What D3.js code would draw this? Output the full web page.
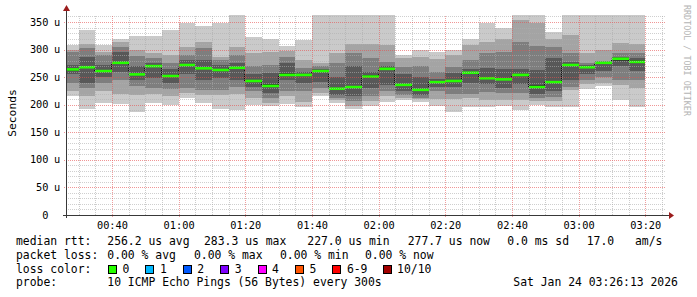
<!DOCTYPE html>
<html>
<head>
<meta charset="utf-8">
<script src="https://cdn.jsdelivr.net/npm/d3@7"></script>
<style>
  html, body { margin: 0; padding: 0; background: #fff; }
  svg text { font-family: "DejaVu Sans Mono", monospace; }
</style>
</head>
<body>
<div id="chart"></div>
<script>
// time window of the graph
const graphEnd = '2026-01-24 03:26:13';
const graphStart = '2026-01-24 00:26:13';

// end of each 5 minute step (a step covers the 5 minutes before it)
const slotEnds = [
  '00:30', '00:35', '00:40', '00:45', '00:50', '00:55', '01:00', '01:05', '01:10',
  '01:15', '01:20', '01:25', '01:30', '01:35', '01:40', '01:45', '01:50', '01:55',
  '02:00', '02:05', '02:10', '02:15', '02:20', '02:25', '02:30', '02:35', '02:40',
  '02:45', '02:50', '02:55', '03:00', '03:05', '03:10', '03:15', '03:20'
];

// median rtt per step (us)
const median = [
  264, 268, 261, 276, 255, 270, 252, 272, 266, 263, 267, 243,
  234, 254, 254, 261, 229, 232, 251, 265, 236, 227.0, 241, 243,
  258, 248, 246, 254, 232, 241, 272, 268, 276, 283.3, 277.7
];

// the 10 sorted pings per step (us), smoke is drawn from these
const pings = [
  [215, 225, 240, 255, 262, 265, 272, 296, 300, 308],
  [193, 215, 230, 240, 266, 270, 287, 302, 311, 336],
  [204, 225, 240, 250, 260, 263, 272, 290, 296, 308],
  [201, 220, 245, 260, 275, 278, 295, 305, 314, 320],
  [187, 217, 234, 245, 254, 258, 270, 288, 299, 325],
  [204, 220, 230, 249, 269, 272, 275, 284, 293, 325],
  [200, 215, 228, 240, 251, 254, 265, 275, 290, 336],
  [212, 222, 230, 255, 271, 274, 281, 290, 305, 348],
  [204, 217, 227, 245, 265, 268, 281, 302, 314, 342],
  [193, 218, 226, 248, 262, 265, 272, 281, 287, 348],
  [190, 220, 233, 245, 266, 269, 275, 290, 305, 370],
  [200, 212, 224, 232, 241, 245, 255, 270, 293, 322],
  [198, 203, 212, 222, 232, 237, 258, 272, 296, 319],
  [201, 216, 224, 245, 252, 257, 276, 287, 298, 307],
  [195, 205, 225, 240, 253, 256, 259, 266, 281, 317],
  [216, 222, 230, 242, 259, 263, 265, 270, 275, 370],
  [204, 208, 213, 218, 227, 231, 250, 275, 293, 370],
  [192, 197, 207, 215, 230, 234, 270, 293, 311, 370],
  [197, 207, 215, 230, 249, 254, 260, 284, 311, 370],
  [205, 215, 225, 235, 263, 267, 270, 278, 308, 370],
  [208, 213, 218, 225, 234, 238, 255, 269, 284, 290],
  [205, 210, 213, 218, 225, 229, 250, 270, 287, 300],
  [197, 210, 225, 233, 239, 243, 247, 260, 282, 296],
  [186, 210, 220, 233, 241, 245, 258, 268, 290, 299],
  [196, 212, 220, 240, 256, 260, 265, 281, 308, 320],
  [196, 208, 223, 238, 246, 250, 266, 293, 314, 348],
  [198, 208, 222, 230, 244, 248, 265, 296, 320, 340],
  [190, 208, 222, 238, 252, 256, 265, 314, 353, 370],
  [200, 206, 212, 220, 230, 235, 263, 306, 349, 370],
  [195, 206, 214, 224, 239, 243, 284, 305, 319, 331],
  [195, 226, 232, 245, 270, 274, 277, 293, 326, 370],
  [229, 237, 245, 255, 266, 270, 272, 276, 294, 370],
  [234, 240, 250, 262, 274, 277, 278, 280, 300, 370],
  [209, 236, 245, 270, 280, 284, 287, 293, 312, 370],
  [196, 230, 245, 262, 277, 281, 284, 293, 311, 370]
];

const yMax = 362.7;

// legend texts
const rttStats = ['256.2 us avg', '283.3 us max', '227.0 us min', '277.7 us now', '0.0 ms sd', '17.0', 'am/s'];
const lossStats = ['0.00 % avg', '0.00 % max', '0.00 % min', '0.00 % now'];
const lossLabels = ['0', '1', '2', '3', '4', '5', '6-9', '10/10'];
const lossColors = ['#26ff00', '#00b8ff', '#0059ff', '#7e00ff', '#ff00ff', '#ff5500', '#ff0000', '#a10000'];
const probeText = '10 ICMP Echo Pings (56 Bytes) every 300s';
const dateText = 'Sat Jan 24 03:26:13 2026';

// smokeping grey for the pair (ibot, itop)
const smokeColors = ['#cacaca', '#a4a4a4', '#7e7e7e', '#585858', '#323232'];

const W = 697, H = 297;
const plot = { left: 66, right: 666, top: 15, bottom: 215 };

const parseFull = d3.timeParse('%Y-%m-%d %H:%M:%S');
const parseSlot = s => parseFull('2026-01-24 ' + s + ':00');
const tStart = parseFull(graphStart);
const tEnd = parseFull(graphEnd);

const x = d3.scaleTime().domain([tStart, tEnd]).range([plot.left, plot.right]);
const y = d3.scaleLinear().domain([0, yMax]).range([plot.bottom, plot.top]);

const svg = d3.select('#chart').append('svg')
  .attr('width', W)
  .attr('height', H)
  .attr('viewBox', `0 0 ${W} ${H}`);

const defs = svg.append('defs');
defs.append('clipPath')
  .attr('id', 'plotClip')
  .append('rect')
  .attr('x', plot.left)
  .attr('y', plot.top)
  .attr('width', plot.right - plot.left)
  .attr('height', plot.bottom - plot.top);

// grid colours
const minorCol = 'rgba(175,175,175,0.6)';
const majorCol = 'rgba(230,80,80,0.6)';

// dotted fill for the vertical grid and the median joins
[['vMinor', 'rgba(170,170,170,0.6)'], ['vMajor', 'rgba(230,80,80,0.55)'], ['vJoin', '#111']].forEach(([id, col]) => {
  const p = defs.append('pattern')
    .attr('id', id)
    .attr('patternUnits', 'userSpaceOnUse')
    .attr('width', 1)
    .attr('height', 2);
  p.append('rect').attr('width', 1).attr('height', 1).attr('fill', col);
});

const steps = slotEnds.map((s, i) => {
  const end = parseSlot(s);
  const start = d3.timeMinute.offset(end, -5);
  return {
    x0: Math.round(x(start < tStart ? tStart : start)),
    x1: Math.round(x(end)),
    pings: pings[i],
    median: median[i]
  };
});

const plotG = svg.append('g').attr('clip-path', 'url(#plotClip)');

// smoke: nested pairs, outer pair lightest
smokeColors.forEach((col, k) => {
  plotG.append('g')
    .selectAll('rect')
    .data(steps)
    .enter()
    .append('rect')
    .attr('x', d => d.x0)
    .attr('width', d => d.x1 - d.x0)
    .attr('y', d => y(d.pings[9 - k]))
    .attr('height', d => y(d.pings[k]) - y(d.pings[9 - k]))
    .attr('fill', col)
    .attr('shape-rendering', 'crispEdges');
});

// dotted joins where the median jumps
const joins = steps.slice(0, -1).map((d, i) => ({ x: d.x1, a: y(d.median), b: y(steps[i + 1].median) }));
plotG.append('g')
  .selectAll('rect')
  .data(joins)
  .enter()
  .append('rect')
  .attr('x', d => d.x - 1)
  .attr('width', 1)
  .attr('y', d => Math.min(d.a, d.b))
  .attr('height', d => Math.abs(d.a - d.b))
  .attr('fill', 'url(#vJoin)');

// median line, loss colour 0
plotG.append('g')
  .selectAll('rect')
  .data(steps)
  .enter()
  .append('rect')
  .attr('x', d => d.x0)
  .attr('width', d => d.x1 - d.x0)
  .attr('y', d => y(d.median) - 1.3)
  .attr('height', 2.6)
  .attr('fill', lossColors[0]);

// grid on top of the graph
const gridG = svg.append('g');
const minorY = y.ticks(36).filter(v => v % 50 !== 0 && v <= yMax);
const majorY = y.ticks(7).filter(v => v > 0);
const minorX = x.ticks(d3.timeMinute.every(5)).filter(t => t.getMinutes() % 20 !== 0);
const majorX = x.ticks(d3.timeMinute.every(20));

gridG.selectAll('.minY')
  .data(minorY)
  .enter()
  .append('line')
  .attr('x1', plot.left)
  .attr('x2', plot.right)
  .attr('y1', d => Math.round(y(d)) + 0.5)
  .attr('y2', d => Math.round(y(d)) + 0.5)
  .attr('stroke', minorCol)
  .attr('stroke-dasharray', '1,1');

gridG.selectAll('.minX')
  .data(minorX)
  .enter()
  .append('rect')
  .attr('x', d => Math.round(x(d)))
  .attr('width', 1)
  .attr('y', plot.top)
  .attr('height', plot.bottom - plot.top)
  .attr('fill', 'url(#vMinor)');

gridG.selectAll('.majY')
  .data(majorY)
  .enter()
  .append('line')
  .attr('x1', plot.left - 2)
  .attr('x2', plot.right)
  .attr('y1', d => Math.round(y(d)) + 0.5)
  .attr('y2', d => Math.round(y(d)) + 0.5)
  .attr('stroke', majorCol)
  .attr('stroke-dasharray', '1,1');

gridG.selectAll('.majX')
  .data(majorX)
  .enter()
  .append('rect')
  .attr('x', d => Math.round(x(d)))
  .attr('width', 1)
  .attr('y', plot.top)
  .attr('height', plot.bottom - plot.top + 3)
  .attr('fill', 'url(#vMajor)');

// axes
const axisColor = '#383838';
const arrowColor = '#9b1c1c';
svg.append('line')
  .attr('x1', plot.left - 3).attr('x2', 670)
  .attr('y1', plot.bottom + 0.5).attr('y2', plot.bottom + 0.5)
  .attr('stroke', axisColor);
svg.append('line')
  .attr('x1', plot.left + 0.5).attr('x2', plot.left + 0.5)
  .attr('y1', plot.bottom + 3).attr('y2', 9)
  .attr('stroke', axisColor);
svg.append('path')
  .attr('d', 'M669,212 L674,215.5 L669,219 Z')
  .attr('fill', arrowColor);
svg.append('path')
  .attr('d', `M${plot.left - 3},11 L${plot.left + 0.5},5 L${plot.left + 4},11 Z`)
  .attr('fill', arrowColor);

// y tick labels
const yLab = svg.append('g').style('font-size', '10.3px').attr('fill', '#000');
yLab.selectAll('.num')
  .data(y.ticks(7))
  .enter()
  .append('text')
  .attr('x', 48.5)
  .attr('y', d => y(d) + 3.6)
  .attr('text-anchor', 'end')
  .text(d => d);
yLab.selectAll('.unit')
  .data(majorY)
  .enter()
  .append('text')
  .attr('x', 54)
  .attr('y', d => y(d) + 3.6)
  .text('u');

// x tick labels
svg.append('g').style('font-size', '10.3px')
  .selectAll('text')
  .data(majorX)
  .enter()
  .append('text')
  .attr('x', d => x(d) + 0.5)
  .attr('y', 229)
  .attr('text-anchor', 'middle')
  .text(d3.timeFormat('%H:%M'));

// vertical title
svg.append('text')
  .attr('transform', 'translate(15.5,113) rotate(-90)')
  .attr('text-anchor', 'middle')
  .style('font-size', '11.3px')
  .text('Seconds');

// watermark
svg.append('text')
  .attr('transform', 'translate(684,5) rotate(90)')
  .style('font-size', '8.4px')
  .attr('fill', '#b4b4b4')
  .text('RRDTOOL / TOBI OETIKER');

// legend
const leg = svg.append('g').style('font-size', '11.4px').attr('fill', '#000');
const row = [245, 258.7, 272.5, 286.2];
leg.append('text').attr('x', 16).attr('y', row[0]).text('median rtt:');
leg.append('text').attr('x', 16).attr('y', row[1]).text('packet loss:');
leg.append('text').attr('x', 16).attr('y', row[2]).text('loss color:');
leg.append('text').attr('x', 16).attr('y', row[3]).text('probe:');

const rttX = [107.3, 204, 307.3, 407.7, 507.3, 586.7, 635];
leg.selectAll('.rtt')
  .data(rttStats)
  .enter()
  .append('text')
  .attr('x', (d, i) => rttX[i])
  .attr('y', row[0])
  .text(d => d);

const lossX = [107.3, 194, 280, 365];
leg.selectAll('.loss')
  .data(lossStats)
  .enter()
  .append('text')
  .attr('x', (d, i) => lossX[i])
  .attr('y', row[1])
  .text(d => d);

// loss colour boxes
let bx = 108;
const boxes = lossLabels.map((l, i) => {
  const item = { label: l, color: lossColors[i], x: bx };
  bx += 31 + 6.4 * l.length;
  return item;
});
const boxG = leg.selectAll('.box')
  .data(boxes)
  .enter()
  .append('g');
boxG.append('rect')
  .attr('x', d => Math.round(d.x) + 0.5)
  .attr('y', 265.5)
  .attr('width', 8)
  .attr('height', 8)
  .attr('fill', d => d.color)
  .attr('stroke', '#000')
  .attr('stroke-width', 1);
boxG.append('text')
  .attr('x', d => d.x + 14.5)
  .attr('y', row[2])
  .text(d => d.label);

leg.append('text').attr('x', 107.3).attr('y', row[3]).text(probeText);
leg.append('text').attr('x', 513.3).attr('y', row[3]).text(dateText);
</script>
</body>
</html>
